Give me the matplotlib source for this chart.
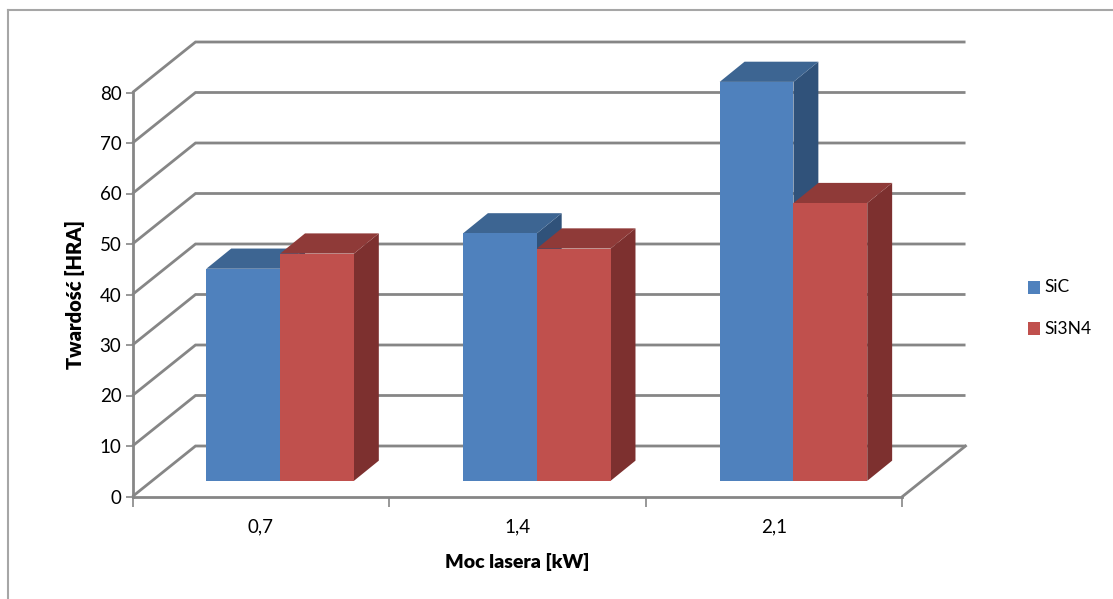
import matplotlib
matplotlib.use("Agg")
import matplotlib.pyplot as plt
from matplotlib.patches import Polygon, Rectangle

categories = ["0,7", "1,4", "2,1"]
series_names = ["SiC", "Si3N4"]
sic = [42, 49, 79]
si3n4 = [45, 46, 55]
yticks = [0, 10, 20, 30, 40, 50, 60, 70, 80]

W, H = 1113, 599
GRID = "#868686"
FRONT = ["#4F81BD", "#C0504D"]
SIDE = ["#30527A", "#7D302F"]
TOP = ["#3D6592", "#8F3A38"]

plt.rcParams["font.family"] = ["Lato", "DejaVu Sans"]
fig = plt.figure(figsize=(W / 100, H / 100), dpi=100)
fig.patch.set_facecolor("white")

# axes: category x scale and value y scale on the front plane
L, R, T, B = 132.5, 902.5, 92.5, 496.5
ax = fig.add_axes([L / W, 1 - B / H, (R - L) / W, (B - T) / H])
ax.set_xlim(0, 3)
ax.set_ylim(0, 80)
ax.patch.set_alpha(0)

DX = 0.2455   # full depth in category units
DY = 10.0     # full depth in value units
FX = 0.2425 / DX
LW = 2.0


def proj(x, y, f):
    return (x + f * FX * DX, y + f * DY)


# walls
for v in yticks:
    xs = [0, DX, 3 + DX]
    ys = [v, v + DY, v + DY]
    ax.plot(xs, ys, color=GRID, lw=LW, clip_on=False, solid_joinstyle="miter",
            solid_capstyle="butt", zorder=1)
ax.plot([3, 3 + DX], [0, DY], color=GRID, lw=LW, clip_on=False, zorder=1)

# bars
F0, F1 = 0.31, 0.71
BW = 0.2875
for i in range(3):
    for s, vals in enumerate([sic, si3n4]):
        v = vals[i]
        x0 = i + 0.5 + (s - 1) * BW
        x1 = x0 + BW
        z = 3 + s
        ax.add_patch(Polygon([proj(x1, 0, F0), proj(x1, 0, F1), proj(x1, v, F1), proj(x1, v, F0)],
                             closed=True, fc=SIDE[s], ec="none", zorder=z, clip_on=False))
        ax.add_patch(Polygon([proj(x0, v, F0), proj(x1, v, F0), proj(x1, v, F1), proj(x0, v, F1)],
                             closed=True, fc=TOP[s], ec="none", zorder=z, clip_on=False))
        ax.bar(proj(x0, 0, F0)[0], v, width=BW, bottom=F0 * DY, align="edge",
               color=FRONT[s], zorder=z + 0.5, clip_on=False)

# axes styling
for k in ("top", "right"):
    ax.spines[k].set_visible(False)
for k in ("left", "bottom"):
    ax.spines[k].set_color(GRID)
    ax.spines[k].set_linewidth(LW)
    ax.spines[k].set_zorder(2)
ax.set_yticks(yticks)
ax.set_xticks([0, 1, 2, 3])
ax.set_xticklabels([])
ax.set_xticks([0.5, 1.5, 2.5], labels=categories, minor=True)
ax.tick_params(axis="y", which="major", length=5, width=1.2, color=GRID, labelsize=13.5, pad=3, labelcolor="black")
ax.tick_params(axis="x", which="major", length=7, width=1.2, color=GRID)
ax.tick_params(axis="x", which="minor", length=0, labelsize=13.5, pad=16, labelcolor="black")

ax.set_xlabel("Moc lasera [kW]", fontsize=14, fontweight="heavy", labelpad=12.5)
ax.set_ylabel("Twardość [HRA]", fontsize=14.5, fontweight="heavy", labelpad=10.5)

# frame and legend
lax = fig.add_axes([0, 0, 1, 1], zorder=-1)
lax.set_xlim(0, W)
lax.set_ylim(H, 0)
lax.axis("off")
lax.plot([7.5, 7.5], [599, 9.5], color="#A6A6A6", lw=1.5)
lax.plot([7.5, 1113], [9.5, 9.5], color="#A6A6A6", lw=1.5)
for s, (name, yy) in enumerate(zip(series_names, [287.5, 328.5])):
    lax.add_patch(Rectangle((1028, yy - 6.5), 12, 13, fc=FRONT[s], ec="none"))
    lax.text(1044, yy, name, fontsize=12.5, va="center", ha="left", color="black")

fig.savefig("out.png", dpi=100)
